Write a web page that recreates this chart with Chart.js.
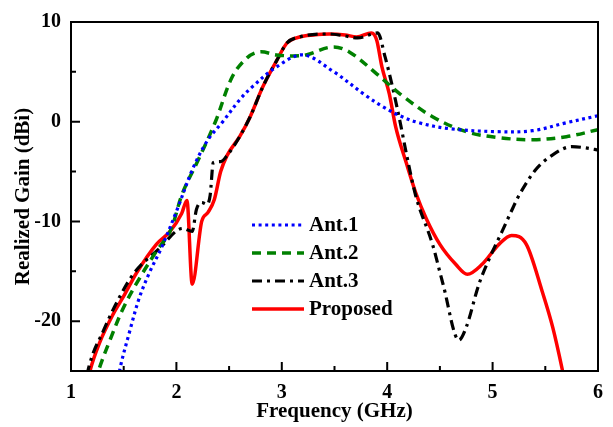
<!DOCTYPE html>
<html>
<head>
<meta charset="utf-8">
<script src="https://cdn.jsdelivr.net/npm/chart.js@4"></script>
<style>
  html, body { margin: 0; padding: 0; background: #ffffff; }
  #wrap { width: 613px; height: 427px; }
</style>
</head>
<body>
<div id="wrap"><canvas id="c" width="613" height="427"></canvas></div>
<script>
// ---- Data ----
const ant1X = [1.40, 1.46, 1.56, 1.65, 1.75, 1.86, 2.0, 2.16, 2.3, 2.44, 2.6, 2.72, 2.95, 3.2, 3.48, 3.8, 3.96, 4.12, 4.3, 4.59, 5.05, 5.38, 5.7, 6.0];
const ant1Y = [-29, -25, -20.9, -17.6, -15, -12.6, -9.0, -4.6, -1.8, 0, 2.2, 3.5, 5.5, 6.7, 5.1, 2.6, 1.5, 0.6, -0.1, -0.7, -1.0, -0.9, -0.1, 0.6];

const ant2X = [1.15, 1.26, 1.37, 1.5, 1.65, 1.81, 1.94, 2.06, 2.2, 2.37, 2.53, 2.67, 2.79, 2.95, 3.1, 3.23, 3.48, 3.64, 3.9, 4.12, 4.43, 4.75, 5.06, 5.38, 5.7, 6.0];
const ant2Y = [-29, -25, -21.9, -18.6, -15.7, -13, -11, -7.1, -4.0, 0, 4.5, 6.4, 7.0, 6.7, 6.6, 6.7, 7.5, 7.0, 4.8, 2.8, 0.5, -1.0, -1.6, -1.8, -1.5, -0.8];

const ant3X = [1.08, 1.16, 1.31, 1.45, 1.59, 1.84, 2.06, 2.15, 2.19, 2.24, 2.29, 2.32, 2.35, 2.42, 2.48, 2.6, 2.7, 2.82, 2.95, 3.05, 3.17, 3.45, 3.6, 3.72, 3.91, 3.98, 4.05, 4.12, 4.18, 4.27, 4.43, 4.53, 4.68, 4.75, 4.87, 4.97, 5.09, 5.19, 5.25, 5.41, 5.56, 5.75, 5.98, 6.0];
const ant3Y = [-30, -25, -20.9, -17.8, -15.3, -12.7, -10.7, -11.0, -8.8, -8.1, -8.3, -7.4, -4.1, -4.0, -3.4, -1.5, 0.5, 3.5, 6.1, 7.9, 8.5, 8.8, 8.6, 8.4, 8.9, 6.5, 3.5, 0.1, -3.1, -7.4, -12.3, -16.3, -21.9, -20.6, -16.3, -13.7, -11.0, -8.7, -7.4, -4.8, -3.4, -2.5, -2.8, -2.85];

const propX = [1.1, 1.18, 1.27, 1.4, 1.5, 1.62, 1.81, 1.94, 2.05, 2.10, 2.15, 2.24, 2.30, 2.36, 2.42, 2.48, 2.6, 2.7, 2.82, 2.95, 3.05, 3.17, 3.3, 3.45, 3.6, 3.71, 3.85, 3.9, 3.95, 4.02, 4.08, 4.18, 4.27, 4.37, 4.5, 4.65, 4.76, 4.9, 5.06, 5.18, 5.32, 5.47, 5.57, 5.66, 5.72];
const propY = [-29, -25, -22.2, -19.3, -17.5, -15.2, -12.3, -11.0, -9.2, -7.9, -16.3, -10.0, -9.1, -7.8, -5.0, -3.4, -1.5, 0.5, 3.5, 6.1, 7.9, 8.5, 8.7, 8.8, 8.7, 8.5, 8.9, 8.2, 5.5, 2.8, -0.5, -4.1, -7.1, -9.7, -12.3, -14.3, -15.3, -14.3, -12.3, -11.4, -12.3, -17, -20.6, -24.8, -28];

const seriesNames = ['Ant.1', 'Ant.2', 'Ant.3', 'Proposed'];
const xTicks = [1, 2, 3, 4, 5, 6];
const xMinorTicks = [1.5, 2.5, 3.5, 4.5, 5.5];
const yTicks = [-20, -10, 0, 10];
const yMinorTicks = [-15, -5, 5];

// ---- Styling ----
const FONT = "'Liberation Serif', 'Times New Roman', serif";
const toPts = (xs, ys) => xs.map((x, i) => ({ x: x, y: ys[i] }));

const styles = [
  { color: '#0000ff', width: 3.2, dash: [3, 3.6], mode: 'default' },
  { color: '#008000', width: 3.5, dash: [9, 6], mode: 'default' },
  { color: '#000000', width: 3.2, dash: [10, 5, 3, 5], mode: 'monotone' },
  { color: '#ff0000', width: 3.5, dash: [], mode: 'monotone' }
];
const allX = [ant1X, ant2X, ant3X, propX];
const allY = [ant1Y, ant2Y, ant3Y, propY];

const datasets = seriesNames.map((name, i) => ({
  label: name,
  data: toPts(allX[i], allY[i]),
  borderColor: styles[i].color,
  borderWidth: styles[i].width,
  borderDash: styles[i].dash,
  borderCapStyle: 'butt',
  borderJoinStyle: 'round',
  pointRadius: 0,
  fill: false,
  cubicInterpolationMode: styles[i].mode,
  tension: 0.35,
  clip: 0
}));

const framePlugin = {
  id: 'frameTicks',
  afterDraw(chart) {
    const { ctx, chartArea: a, scales } = chart;
    ctx.save();
    ctx.strokeStyle = '#000';
    ctx.lineWidth = 2;
    ctx.beginPath();
    xTicks.forEach(v => { const p = scales.x.getPixelForValue(v); ctx.moveTo(p, a.bottom); ctx.lineTo(p, a.bottom - 9); });
    xMinorTicks.forEach(v => { const p = scales.x.getPixelForValue(v); ctx.moveTo(p, a.bottom); ctx.lineTo(p, a.bottom - 5); });
    yTicks.forEach(v => { const p = scales.y.getPixelForValue(v); ctx.moveTo(a.left, p); ctx.lineTo(a.left + 9, p); });
    yMinorTicks.forEach(v => { const p = scales.y.getPixelForValue(v); ctx.moveTo(a.left, p); ctx.lineTo(a.left + 5, p); });
    ctx.stroke();
    ctx.strokeRect(a.left, a.top, a.right - a.left, a.bottom - a.top);

    // Legend inside the plot area
    const lx0 = 252, lx1 = 304, tx = 309;
    const rows = [225, 253, 281, 309];
    ctx.font = 'bold 21px ' + FONT;
    ctx.textBaseline = 'middle';
    ctx.textAlign = 'left';
    seriesNames.forEach((name, i) => {
      ctx.save();
      ctx.strokeStyle = styles[i].color;
      ctx.lineWidth = styles[i].width;
      ctx.setLineDash(styles[i].dash);
      ctx.lineCap = 'butt';
      ctx.beginPath();
      ctx.moveTo(lx0, rows[i]);
      ctx.lineTo(lx1, rows[i]);
      ctx.stroke();
      ctx.restore();
      ctx.fillStyle = '#000';
      ctx.fillText(name, tx, rows[i] + 1);
    });
    ctx.restore();
  }
};

new Chart(document.getElementById('c'), {
  type: 'line',
  data: { datasets: datasets },
  options: {
    responsive: false,
    animation: false,
    layout: { padding: { top: 17, right: 14, bottom: 0, left: 0 } },
    plugins: { legend: { display: false }, tooltip: { enabled: false } },
    scales: {
      x: {
        type: 'linear',
        min: 1, max: 6,
        afterFit: s => { s.height = 56; },
        afterBuildTicks: s => { s.ticks = xTicks.map(v => ({ value: v })); },
        grid: { display: false, drawTicks: false, tickLength: 0 },
        border: { display: false },
        ticks: { padding: 10, color: '#000', font: { family: FONT, size: 20, weight: 'bold' }, maxRotation: 0, callback: v => String(v) },
        title: { display: true, text: 'Frequency (GHz)', color: '#000', padding: { top: 0, bottom: 3 }, font: { family: FONT, size: 21, weight: 'bold' } }
      },
      y: {
        type: 'linear',
        min: -25, max: 10,
        afterFit: s => { s.width = 71; },
        afterBuildTicks: s => { s.ticks = yTicks.map(v => ({ value: v })); },
        grid: { display: false, drawTicks: false, tickLength: 0 },
        border: { display: false },
        ticks: { padding: 10, color: '#000', font: { family: FONT, size: 20, weight: 'bold' }, callback: v => String(v) },
        title: { display: true, text: 'Realized Gain (dBi)', color: '#000', padding: { top: 11, bottom: 0 }, font: { family: FONT, size: 21, weight: 'bold' } }
      }
    }
  },
  plugins: [framePlugin]
});
</script>
</body>
</html>
